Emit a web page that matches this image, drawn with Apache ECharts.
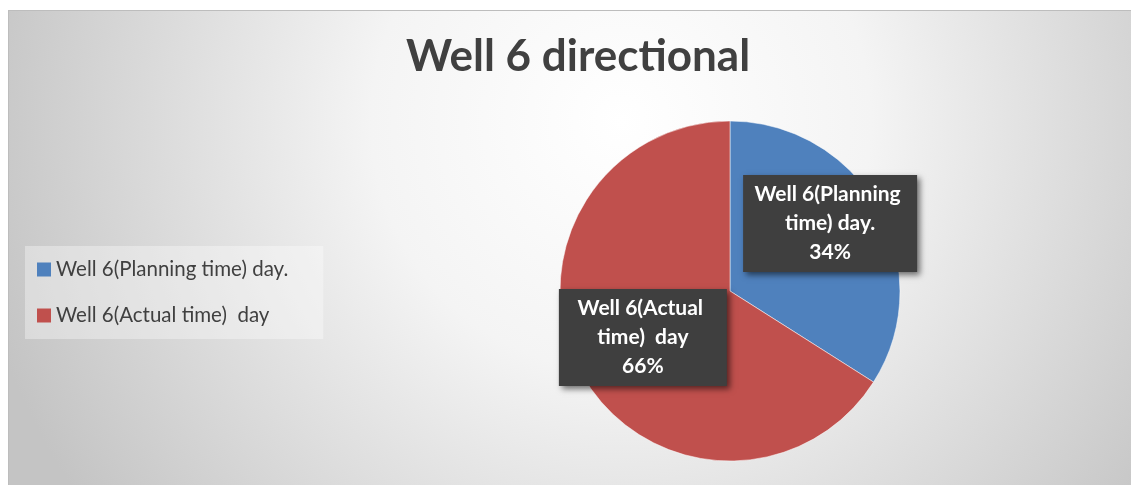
<!DOCTYPE html>
<html>
<head>
<meta charset="utf-8">
<script src="https://cdn.jsdelivr.net/npm/echarts@6/dist/echarts.min.js"></script>
<style>
    body { margin: 0; background: #fff; }
    #bg {
        position: absolute; left: 8px; top: 10px; width: 1123px; height: 475px;
        border-top: 1px solid #bdbdbd; border-left: 1px solid #bdbdbd; box-sizing: border-box;
        background: radial-gradient(circle at 612px 110px, #ffffff 0px, #f4f4f4 250px, #c4c4c4 660px);
    }
    #main { position: absolute; left: 0; top: 0; width: 1131px; height: 485px; }
</style>
</head>
<body>
<div id="bg"></div>
<div id="main"></div>
<script>
    // data
    const categories = ['Well 6(Planning time) day.', 'Well 6(Actual time)  day'];
    const values = [34, 66];
    const colors = ['#4f81bd', '#c0504d'];
    const labelOffsets = [[23, -25], [-10, 4]];
    const labelWidths = [160, 154];

    let chart = echarts.init(document.getElementById('main'));
    let option = {
        title: {
            text: 'Well 6 directional',
            left: 573,
            textAlign: 'center',
            top: 30,
            textStyle: {
                fontFamily: 'Lato',
                fontWeight: 'bold',
                fontSize: 44,
                color: '#404040'
            }
        },
        legend: {
            orient: 'vertical',
            left: 25,
            top: 246,
            padding: [13, 35, 13, 12],
            backgroundColor: 'rgba(255,255,255,0.35)',
            icon: 'rect',
            itemWidth: 14,
            itemHeight: 14,
            itemGap: 25,
            itemStyle: { borderWidth: 0 },
            textStyle: {
                fontFamily: 'Lato',
                fontSize: 20.5,
                lineHeight: 20,
                color: '#404040'
            },
            data: categories
        },
        series: [
            {
                type: 'pie',
                center: [730, 291],
                radius: 170,
                startAngle: 90,
                clockwise: true,
                percentPrecision: 0,
                animation: false,
                itemStyle: { borderColor: '#ffffff', borderWidth: 0.5 },
                label: {
                    show: true,
                    position: 'inside',
                    formatter: '{b}\n{d}%',
                    overflow: 'break',
                    align: 'center',
                    fontFamily: 'Lato',
                    fontWeight: 'bold',
                    fontSize: 21,
                    lineHeight: 29,
                    color: '#ffffff',
                    backgroundColor: '#3f3f3f',
                    padding: [5, 7, 5, 7],
                    shadowColor: 'rgba(0,0,0,0.55)',
                    shadowBlur: 6,
                    shadowOffsetX: 3,
                    shadowOffsetY: 3
                },
                labelLine: { show: false },
                data: categories.map((name, i) => ({
                    name: name,
                    value: values[i],
                    itemStyle: { color: colors[i] },
                    label: { offset: labelOffsets[i], width: labelWidths[i] }
                }))
            }
        ]
    };
    chart.setOption(option);
</script>
</body>
</html>
